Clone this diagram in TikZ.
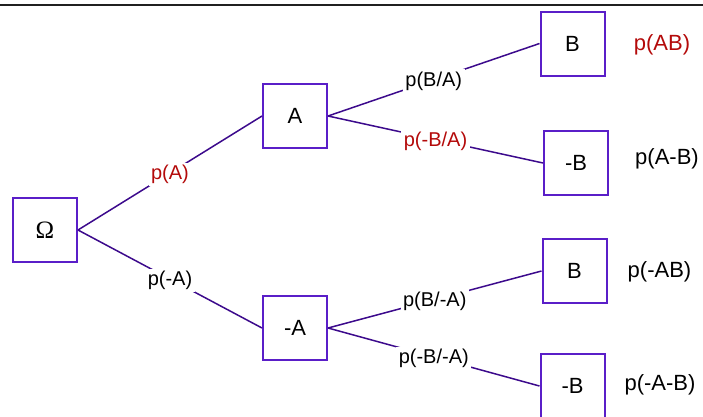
\documentclass[tikz,border=0pt]{standalone}
\usepackage{fontspec}
\setmainfont{Liberation Sans}
\newfontfamily\omegafont{Liberation Serif}
\definecolor{boxviolet}{HTML}{5A1EC8}
\definecolor{edgeindigo}{HTML}{3C0A8C}
\definecolor{probred}{HTML}{B40A0A}
\definecolor{rulegray}{HTML}{202020}
\begin{document}
\begin{tikzpicture}[x=1pt,y=-1pt,
  event/.style={draw=boxviolet, line width=2pt, fill=white, rectangle,
    minimum width=64pt, minimum height=64pt, inner sep=0pt,
    font=\fontsize{22}{26}\selectfont},
  branch/.style={draw=edgeindigo, line width=1.5pt},
  prob/.style={fill=white, inner sep=2.5pt, font=\fontsize{20}{24}\selectfont},
  joint/.style={inner sep=0pt, font=\fontsize{22}{26}\selectfont},
  hot/.style={text=probred}]
  \useasboundingbox (0,0) rectangle (703,416);

  % rule across the top
  \coordinate (ruleL) at (0,5);
  \coordinate (ruleR) at (703,5);
  \draw[rulegray, line width=2pt] (ruleL) -- (ruleR);

  % event boxes
  \node[event] (om) at (45,230) {\omegafont\fontsize{25}{28}\selectfont Ω};
  \node[event] (a)  at (295,116) {A};
  \node[event] (na) at (295,328) {-A};
  \node[event] (ab)   at (572.5,43.5) {B};
  \node[event] (anb)  at (576,163) {-B};
  \node[event] (nab)  at (574.5,271) {B};
  \node[event] (nanb) at (572.5,386) {-B};

  % branches with their conditional probabilities
  \draw[branch] (om.east) -- node[prob, hot, yshift=-1.5pt] {p(A)} (a.west);
  \draw[branch] (om.east) -- node[prob, yshift=-1.5pt] {p(-A)} (na.west);
  \draw[branch] (a.east) -- node[prob, yshift=-1.5pt] {p(B/A)} (ab.west);
  \draw[branch] (a.east) -- node[prob, hot, yshift=-1.5pt] {p(-B/A)} (anb.west);
  \draw[branch] (na.east) -- node[prob, yshift=-1.5pt] {p(B/-A)} (nab.west);
  \draw[branch] (na.east) -- node[prob, yshift=-1.5pt] {p(-B/-A)} (nanb.west);

  % joint probabilities
  \node[joint, hot] (pab)   at (662,45)  {p(AB)};
  \node[joint]      (panb)  at (667,159) {p(A-B)};
  \node[joint]      (pnab)  at (659.5,272) {p(-AB)};
  \node[joint]      (pnanb) at (660,385) {p(-A-B)};
\end{tikzpicture}
\end{document}
